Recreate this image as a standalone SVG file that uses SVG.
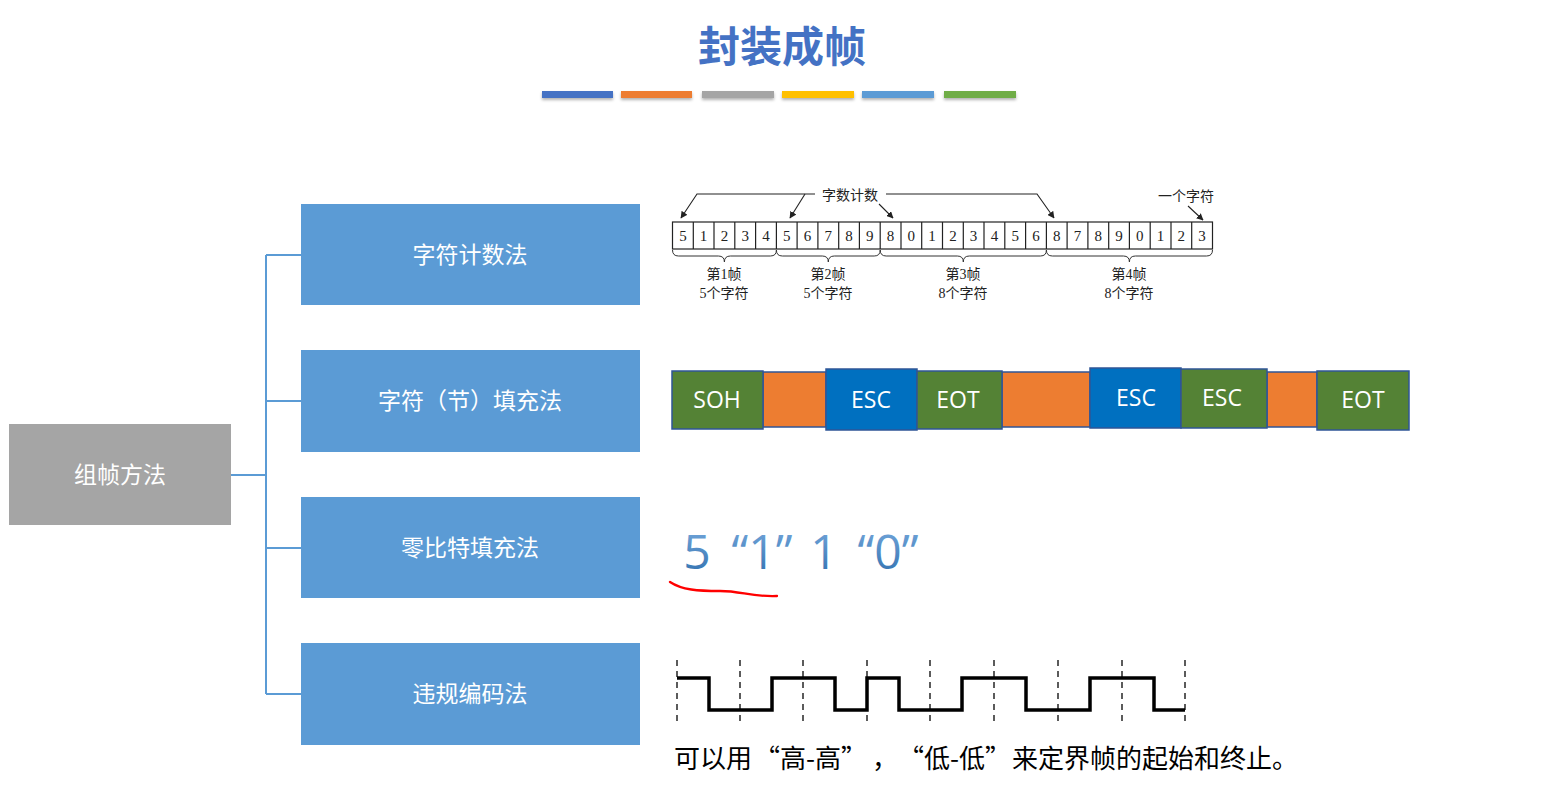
<svg xmlns="http://www.w3.org/2000/svg" width="1563" height="803" viewBox="0 0 1563 803">
<style>
.cn{font-family:"Microsoft YaHei","Noto Sans CJK SC","Noto Sans",sans-serif}
.node{fill:#5B9BD5}
.nt{font-family:"Noto Sans CJK SC",sans-serif;font-size:23px;fill:#fff;text-anchor:middle}
.conn{stroke:#5B9BD5;stroke-width:2;fill:none}
.cell{fill:none;stroke:#222;stroke-width:1.2}
.dg{font-family:"Liberation Serif","Noto Sans CJK SC",serif;font-size:15px;fill:#222;text-anchor:middle}
.sm{font-family:"Liberation Serif","Noto Sans CJK SC",serif;font-size:14px;fill:#222;text-anchor:middle}
.br{fill:none;stroke:#333;stroke-width:1}
.ar{fill:none;stroke:#222;stroke-width:1.1}
.bs{stroke:#2F5597;stroke-width:1.5}
.bt{font-family:"Open Sans","Noto Sans",sans-serif;font-size:23px;fill:#fff;text-anchor:middle}
.zb{font-family:"Open Sans","Noto Sans",sans-serif;font-size:48px;text-anchor:middle}
.dash{stroke:#333;stroke-width:1.6;stroke-dasharray:6 5}
</style>
<defs>
<marker id="ah" viewBox="0 0 10 10" refX="9" refY="5" markerWidth="7" markerHeight="7" orient="auto" markerUnits="userSpaceOnUse">
<path d="M0,0 L10,5 L0,10 z" fill="#222"/>
</marker>
<filter id="sh" x="-5%" y="-50%" width="110%" height="250%">
<feDropShadow dx="0" dy="2" stdDeviation="1.5" flood-color="#000" flood-opacity="0.3"/>
</filter>
<linearGradient id="zg" x1="0" y1="530" x2="0" y2="570" gradientUnits="userSpaceOnUse">
<stop offset="0" stop-color="#6FA3D8"/>
<stop offset="1" stop-color="#3A78B5"/>
</linearGradient>
</defs>
<rect width="1563" height="803" fill="#fff"/>

<g id="title">
<text x="782" y="62" class="cn" font-size="42" font-weight="bold" fill="#4472C4" text-anchor="middle">封装成帧</text>
<g filter="url(#sh)">
<rect x="542" y="91" width="71" height="7" fill="#4472C4"/>
<rect x="621" y="91" width="71" height="7" fill="#ED7D31"/>
<rect x="702" y="91" width="72" height="7" fill="#A5A5A5"/>
<rect x="782" y="91" width="72" height="7" fill="#FFC000"/>
<rect x="862" y="91" width="72" height="7" fill="#5B9BD5"/>
<rect x="944" y="91" width="72" height="7" fill="#70AD47"/>
</g>
</g>

<g id="connectors">
<path class="conn" d="M231,475 H266 M266,255 V694 M266,255 H301 M266,401 H301 M266,548 H301 M266,694 H301"/>
</g>

<g id="root">
<rect x="9" y="424" width="222" height="101" fill="#A5A5A5"/>
<text x="120" y="483" class="nt">组帧方法</text>
</g>
<g id="n1">
<rect class="node" x="301" y="204" width="339" height="101"/>
<text x="470" y="263" class="nt">字符计数法</text>
</g>
<g id="n2">
<rect class="node" x="301" y="350" width="339" height="102"/>
<text x="470" y="409" class="nt">字符（节）填充法</text>
</g>
<g id="n3">
<rect class="node" x="301" y="497" width="339" height="101"/>
<text x="470" y="556" class="nt">零比特填充法</text>
</g>
<g id="n4">
<rect class="node" x="301" y="643" width="339" height="102"/>
<text x="470" y="702" class="nt">违规编码法</text>
</g>

<g id="charcount">
<rect class="cell" x="672.5" y="222" width="540" height="27"/>
<path class="cell" d="M693.3,222V249 M714.0,222V249 M734.8,222V249 M755.6,222V249 M776.4,222V249 M797.1,222V249 M817.9,222V249 M838.7,222V249 M859.4,222V249 M880.2,222V249 M901.0,222V249 M921.7,222V249 M942.5,222V249 M963.3,222V249 M984.0,222V249 M1004.8,222V249 M1025.6,222V249 M1046.4,222V249 M1067.1,222V249 M1087.9,222V249 M1108.7,222V249 M1129.4,222V249 M1150.2,222V249 M1171.0,222V249 M1191.7,222V249"/>
<g class="dg">
<text x="682.9" y="241">5</text><text x="703.6" y="241">1</text><text x="724.4" y="241">2</text><text x="745.2" y="241">3</text><text x="765.9" y="241">4</text>
<text x="786.7" y="241">5</text><text x="807.5" y="241">6</text><text x="828.2" y="241">7</text><text x="849.0" y="241">8</text><text x="869.8" y="241">9</text>
<text x="890.6" y="241">8</text><text x="911.3" y="241">0</text><text x="932.1" y="241">1</text><text x="952.9" y="241">2</text><text x="973.6" y="241">3</text><text x="994.4" y="241">4</text><text x="1015.2" y="241">5</text><text x="1035.9" y="241">6</text>
<text x="1056.7" y="241">8</text><text x="1077.5" y="241">7</text><text x="1098.3" y="241">8</text><text x="1119.0" y="241">9</text><text x="1139.8" y="241">0</text><text x="1160.6" y="241">1</text><text x="1181.3" y="241">2</text><text x="1202.1" y="241">3</text>
</g>
<path class="br" d="M672.5,250 q0,6 6,6 H718.4 q6,0 6,6 q0,-6 6,-6 H770.4 q6,0 6,-6"/>
<path class="br" d="M776.4,250 q0,6 6,6 H822.3 q6,0 6,6 q0,-6 6,-6 H874.2 q6,0 6,-6"/>
<path class="br" d="M880.2,250 q0,6 6,6 H957.3 q6,0 6,6 q0,-6 6,-6 H1040.4 q6,0 6,-6"/>
<path class="br" d="M1046.4,250 q0,6 6,6 H1123.4 q6,0 6,6 q0,-6 6,-6 H1206.5 q6,0 6,-6"/>
<text class="sm" x="724" y="279">第1帧</text><text class="sm" x="724" y="298">5个字符</text>
<text class="sm" x="828" y="279">第2帧</text><text class="sm" x="828" y="298">5个字符</text>
<text class="sm" x="963" y="279">第3帧</text><text class="sm" x="963" y="298">8个字符</text>
<text class="sm" x="1129" y="279">第4帧</text><text class="sm" x="1129" y="298">8个字符</text>
<text class="sm" x="850" y="200">字数计数</text>
<text class="sm" x="1186" y="201">一个字符</text>
<path class="ar" d="M815,194 H697 L681,218" marker-end="url(#ah)"/>
<path class="ar" d="M805,194 L790,218" marker-end="url(#ah)"/>
<path class="ar" d="M879,204 L893,218" marker-end="url(#ah)"/>
<path class="ar" d="M886,194 H1037 L1054,218" marker-end="url(#ah)"/>
<path class="ar" d="M1188,206 L1203,220" marker-end="url(#ah)"/>
</g>

<g id="bytestuff">
<rect class="bs" x="763" y="372" width="63" height="55" fill="#ED7D31"/>
<rect class="bs" x="1002" y="372" width="88" height="55" fill="#ED7D31"/>
<rect class="bs" x="1267" y="372" width="50" height="55" fill="#ED7D31"/>
<rect class="bs" x="672" y="371" width="91" height="58" fill="#548235"/>
<rect class="bs" x="826" y="369" width="91" height="61" fill="#0070C0"/>
<rect class="bs" x="917" y="371" width="85" height="58" fill="#548235"/>
<rect class="bs" x="1090" y="368" width="91" height="60" fill="#0070C0"/>
<rect class="bs" x="1181" y="369" width="86" height="59" fill="#548235"/>
<rect class="bs" x="1317" y="371" width="92" height="59" fill="#548235"/>
<text class="bt" x="717" y="408">SOH</text>
<text class="bt" x="871" y="408">ESC</text>
<text class="bt" x="958" y="408">EOT</text>
<text class="bt" x="1136" y="406">ESC</text>
<text class="bt" x="1222" y="406">ESC</text>
<text class="bt" x="1363" y="408">EOT</text>
</g>

<g id="zerobit">
<g fill="url(#zg)" class="zb">
<text x="697" y="569">5</text>
<text x="762" y="569">“1”</text>
<text x="824" y="569">1</text>
<text x="888" y="569">“0”</text>
</g>
<path d="M670,582 C682,590 698,591 720,591 C742,591 750,597 777,596" fill="none" stroke="#FF0000" stroke-width="2.3" stroke-linecap="round"/>
</g>

<g id="violation">
<path class="dash" d="M677,660V722 M740,660V722 M803,660V722 M867,660V722 M930,660V722 M994,660V722 M1058,660V722 M1122,660V722 M1185,660V722"/>
<path d="M677,678 H709 V710 H772 V678 H835 V710 H867 V678 H899 V710 H962 V678 H1026 V710 H1090 V678 H1154 V710 H1185" fill="none" stroke="#000" stroke-width="3.5"/>
<text y="768" class="cn" font-size="26" fill="#000" lang="zh-CN"><tspan x="674">可以用</tspan><tspan x="754">“高-高”</tspan><tspan x="872">，</tspan><tspan x="898">“低-低”</tspan><tspan x="1012">来定界帧的起始和终止。</tspan></text>
</g>
</svg>
